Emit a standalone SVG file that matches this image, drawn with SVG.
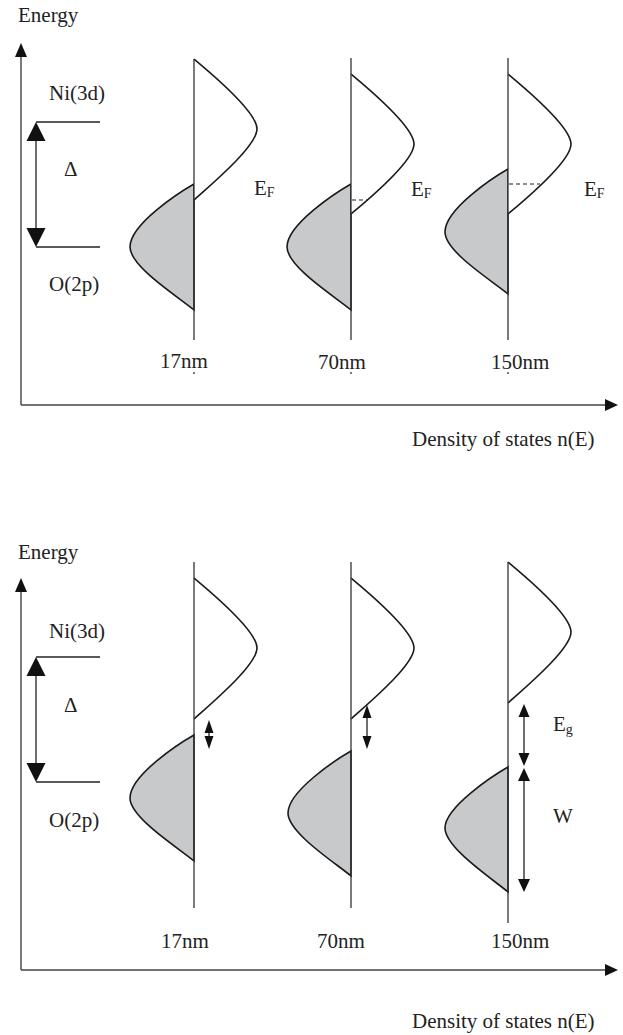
<svg xmlns="http://www.w3.org/2000/svg" width="623" height="1035" viewBox="0 0 623 1035">
<defs>
<style>
text{font-family:"Liberation Serif","Times New Roman",serif;font-size:21px;fill:#222}
.sub{font-size:14px}
.ax{stroke:#444;stroke-width:1.4;fill:none}
.vl{stroke:#333;stroke-width:1.3;fill:none}
.up{stroke:#1a1a1a;stroke-width:1.6;fill:#fff}
.lo{stroke:#1a1a1a;stroke-width:1.6;fill:#c8c9cb}
.ln{stroke:#222;stroke-width:1.3;fill:none}
.dash{stroke:#222;stroke-width:1.2;stroke-dasharray:4,3;fill:none}
.ah{fill:#111}
</style>
</defs>
<rect width="623" height="1035" fill="#fff"/>

<!-- ===== TOP PANEL ===== -->
<g id="top-axes">
<line class="ax" x1="21" y1="50" x2="21" y2="405"/>
<line class="ax" x1="21" y1="405" x2="610" y2="405"/>
<polygon class="ah" points="21,43 15,57 27,57"/>
<polygon class="ah" points="618,405 605,399 605,411"/>
<text x="18" y="22">Energy</text>
<text x="412" y="446">Density of states n(E)</text>
</g>
<g id="top-delta">
<line class="ln" x1="36" y1="122" x2="100" y2="122"/>
<line class="ln" x1="36" y1="247" x2="100" y2="247"/>
<line class="ln" x1="36" y1="135" x2="36" y2="235"/>
<polygon class="ah" points="36,122 26.5,141 45.5,141"/>
<polygon class="ah" points="36,247 26.5,228 45.5,228"/>
<text x="49" y="100">Ni(3d)</text>
<text x="64" y="176">Δ</text>
<text x="49" y="291">O(2p)</text>
</g>
<g id="top-17nm">
<path class="lo" d="M194,184 c-14,8 -64,40 -64,63 c0,20 50,51 64,63 Z"/>
<path class="up" d="M194,59 c12,10 63,52 63,70 c0,18 -51,60 -63,71"/>
<line class="vl" x1="194" y1="59" x2="194" y2="340"/>
<line class="vl" x1="194" y1="372" x2="194" y2="374"/>
<text x="254" y="195">E<tspan class="sub" dy="2">F</tspan></text>
<text x="160" y="368">17nm</text>
</g>
<g id="top-70nm">
<path class="lo" d="M351,184 c-14,8 -64,40 -64,63 c0,20 50,51 64,63 Z"/>
<path class="up" d="M351,74 c12,10 63,52 63,70 c0,18 -51,60 -63,70"/>
<line class="vl" x1="351" y1="58" x2="351" y2="340"/>
<line class="vl" x1="351" y1="372" x2="351" y2="374"/>
<line class="dash" x1="352" y1="200" x2="368" y2="200"/>
<text x="411" y="196">E<tspan class="sub" dy="2">F</tspan></text>
<text x="318" y="369">70nm</text>
</g>
<g id="top-150nm">
<path class="lo" d="M508,169 c-14,8 -63,40 -63,63 c0,20 49,50 63,62 Z"/>
<path class="up" d="M508,74 c12,10 63,52 63,70 c0,18 -51,60 -63,70"/>
<line class="vl" x1="508" y1="58" x2="508" y2="340"/>
<line class="vl" x1="508" y1="372" x2="508" y2="374"/>
<line class="dash" x1="509" y1="184" x2="540" y2="184"/>
<text x="584" y="196">E<tspan class="sub" dy="2">F</tspan></text>
<text x="491" y="369">150nm</text>
</g>

<!-- ===== BOTTOM PANEL ===== -->
<g id="bottom-axes">
<line class="ax" x1="21" y1="585" x2="21" y2="970"/>
<line class="ax" x1="21" y1="970" x2="610" y2="970"/>
<polygon class="ah" points="21,578 15,592 27,592"/>
<polygon class="ah" points="618,970 605,964 605,976"/>
<text x="18" y="559">Energy</text>
<text x="412" y="1028">Density of states n(E)</text>
</g>
<g id="bottom-delta">
<line class="ln" x1="36" y1="657" x2="100" y2="657"/>
<line class="ln" x1="36" y1="782" x2="100" y2="782"/>
<line class="ln" x1="36" y1="670" x2="36" y2="770"/>
<polygon class="ah" points="36,657 26.5,676 45.5,676"/>
<polygon class="ah" points="36,782 26.5,763 45.5,763"/>
<text x="49" y="638">Ni(3d)</text>
<text x="64" y="712">Δ</text>
<text x="49" y="827">O(2p)</text>
</g>
<g id="bottom-17nm">
<path class="lo" d="M194,735 c-14,8 -64,40 -64,63 c0,20 50,51 64,63 Z"/>
<path class="up" d="M194,578 c12,10 63,52 63,70 c0,18 -51,60 -63,71"/>
<line class="vl" x1="194" y1="562" x2="194" y2="908"/>
<line class="ln" x1="209" y1="726" x2="209" y2="744"/>
<polygon class="ah" points="209,720 204.5,733 213.5,733"/>
<polygon class="ah" points="209,749 204.5,736 213.5,736"/>
<text x="161" y="948">17nm</text>
</g>
<g id="bottom-70nm">
<path class="lo" d="M351,751 c-14,8 -63,40 -63,62 c0,20 49,51 63,63 Z"/>
<path class="up" d="M351,578 c12,10 63,52 63,70 c0,18 -51,60 -63,71"/>
<line class="vl" x1="351" y1="562" x2="351" y2="908"/>
<line class="ln" x1="367" y1="712" x2="367" y2="742"/>
<polygon class="ah" points="367,705 362.5,718 371.5,718"/>
<polygon class="ah" points="367,749 362.5,736 371.5,736"/>
<text x="317" y="948">70nm</text>
</g>
<g id="bottom-150nm">
<path class="lo" d="M508,767 c-14,8 -63,40 -63,61 c0,20 49,52 63,64 Z"/>
<path class="up" d="M508,562 c12,10 63,52 63,70 c0,18 -51,60 -63,71"/>
<line class="vl" x1="508" y1="562" x2="508" y2="923"/>
<line class="ln" x1="524" y1="712" x2="524" y2="758"/>
<polygon class="ah" points="524,704 518.5,717 529.5,717"/>
<polygon class="ah" points="524,766 518.5,753 529.5,753"/>
<line class="ln" x1="524" y1="775" x2="524" y2="885"/>
<polygon class="ah" points="524,768 518,781 530,781"/>
<polygon class="ah" points="524,892 518,879 530,879"/>
<text x="553" y="731">E<tspan class="sub" dy="3">g</tspan></text>
<text x="553" y="823">W</text>
<text x="491" y="948">150nm</text>
</g>
</svg>
